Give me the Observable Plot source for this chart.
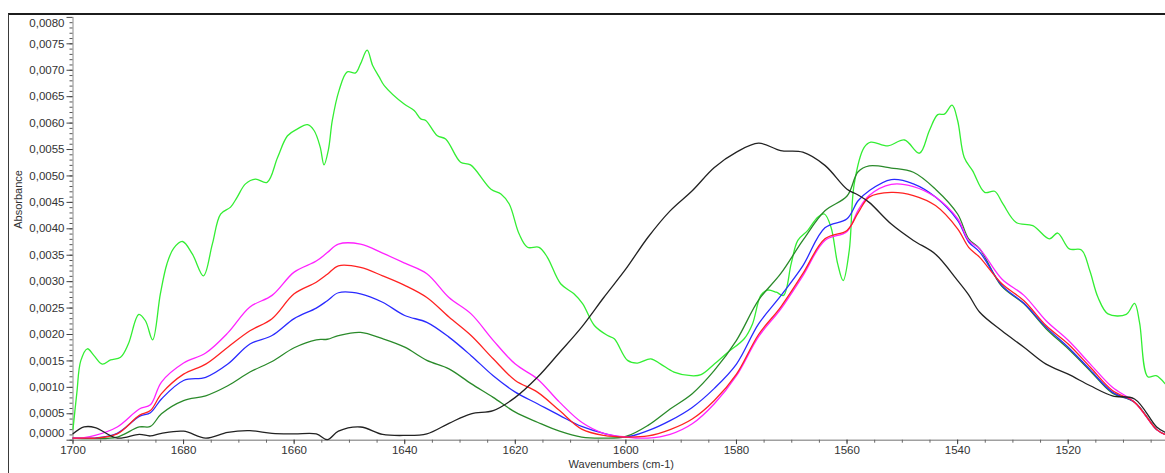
<!DOCTYPE html>
<html><head><meta charset="utf-8">
<script src="https://cdn.jsdelivr.net/npm/d3@7"></script>
<script src="https://cdn.jsdelivr.net/npm/@observablehq/plot@0.6"></script>
<style>
html,body{margin:0;padding:0;background:#fff;}
#wrap{position:relative;width:1165px;height:473px;overflow:hidden;font-family:"Liberation Sans",Arial,sans-serif;}
#wrap svg{position:absolute;left:0;top:0;}
#frame{position:absolute;left:8px;top:13px;right:0;bottom:0;border-top:2px solid #1c1c1c;border-left:1.5px solid #3a3a3a;pointer-events:none;}
</style></head><body><div id="wrap"><div id="frame"></div></div>
<script>
// Shared wavenumber grid (cm-1) for the smooth spectra
const wavenumbers = [1700,1698,1696,1692,1688,1686,1684,1680,1676,1672,1668,1664,1660,1656,1654,1652,1648,1644,1640,1636,1632,1628,1624,1620,1616,1612,1608,1604,1600,1596,1592,1588,1584,1580,1576,1572,1568,1564,1560,1558,1556,1552,1548,1544,1540,1538,1536,1532,1528,1524,1520,1516,1512,1508,1504,1502.5];

const magentaAbs = [0.00004,0.00005,0.00009,0.00025,0.00059,0.00067,0.00110,0.00146,0.00165,0.00203,0.00252,0.00274,0.00318,0.00339,0.00355,0.00371,0.00371,0.00354,0.00335,0.00315,0.00270,0.00239,0.00189,0.00144,0.00116,0.00072,0.00034,0.00013,0.00006,0.00004,0.00011,0.00031,0.00069,0.00122,0.00196,0.00248,0.00311,0.00378,0.00395,0.00435,0.00463,0.00484,0.00480,0.00460,0.00419,0.00378,0.00362,0.00305,0.00274,0.00226,0.00189,0.00144,0.00100,0.00072,0.00020,0.00011];

const redAbs = [0.00004,0.00004,0.00004,0.00012,0.00047,0.00056,0.00088,0.00125,0.00144,0.00176,0.00207,0.00230,0.00277,0.00299,0.00314,0.00330,0.00327,0.00311,0.00293,0.00270,0.00233,0.00198,0.00154,0.00113,0.00091,0.00056,0.00021,0.00009,0.00006,0.00008,0.00020,0.00040,0.00075,0.00125,0.00200,0.00252,0.00315,0.00381,0.00397,0.00430,0.00460,0.00469,0.00463,0.00444,0.00400,0.00365,0.00346,0.00296,0.00264,0.00217,0.00182,0.00138,0.00094,0.00072,0.00020,0.00011];

const blueAbs = [0.00004,0.00004,0.00004,0.00013,0.00045,0.00052,0.00078,0.00113,0.00119,0.00144,0.00182,0.00198,0.00230,0.00250,0.00264,0.00279,0.00277,0.00261,0.00236,0.00223,0.00195,0.00160,0.00122,0.00091,0.00069,0.00047,0.00026,0.00013,0.00006,0.00018,0.00037,0.00062,0.00098,0.00144,0.00220,0.00273,0.00330,0.00402,0.00419,0.00453,0.00472,0.00493,0.00485,0.00460,0.00416,0.00375,0.00356,0.00293,0.00259,0.00214,0.00176,0.00133,0.00091,0.00072,0.00020,0.00011];

const darkGreenAbs = [0.00004,0.00003,0.00003,0.00006,0.00025,0.00026,0.00050,0.00075,0.00084,0.00103,0.00129,0.00149,0.00175,0.00190,0.00191,0.00198,0.00204,0.00192,0.00176,0.00151,0.00135,0.00107,0.00081,0.00053,0.00034,0.00017,0.00006,0.00004,0.00007,0.00028,0.00059,0.00088,0.00132,0.00189,0.00265,0.00315,0.00378,0.00434,0.00462,0.00508,0.00519,0.00515,0.00507,0.00475,0.00428,0.00381,0.00362,0.00291,0.00258,0.00211,0.00173,0.00131,0.00089,0.00072,0.00020,0.00011];

const blackAbs = [0.00012,0.00025,0.00024,0.00004,0.00011,0.00008,0.00013,0.00017,0.00004,0.00015,0.00018,0.00013,0.00012,0.00012,0.00001,0.00017,0.00025,0.00011,0.00009,0.00012,0.00032,0.00050,0.00056,0.00081,0.00119,0.00166,0.00214,0.00270,0.00324,0.00384,0.00434,0.00472,0.00516,0.00545,0.00562,0.00548,0.00545,0.00520,0.00475,0.00464,0.00450,0.00409,0.00378,0.00352,0.00302,0.00275,0.00242,0.00207,0.00176,0.00144,0.00125,0.00103,0.00084,0.00078,0.00025,0.00015];

// Light green spectrum has finer structure: its own wavenumber list
const lightGreenWavenumbers = [1700.0,1699.3,1698.6,1697.4,1696.2,1694.7,1693.2,1691.4,1690.0,1688.1,1686.9,1685.6,1684.2,1683.0,1681.8,1680.2,1678.4,1676.4,1674.8,1673.3,1671.5,1670.3,1668.8,1667.0,1664.9,1663.0,1661.2,1659.4,1657.6,1656.4,1655.3,1654.6,1653.8,1653.1,1651.9,1650.4,1648.9,1648.0,1646.8,1645.8,1644.6,1643.7,1640.1,1638.3,1637.1,1636.2,1634.1,1632.6,1629.9,1628.1,1624.4,1622.6,1621.1,1619.3,1617.8,1615.7,1614.2,1611.8,1609.4,1607.8,1605.7,1603.3,1602.1,1599.7,1597.9,1595.5,1593.7,1591.3,1588.2,1586.4,1584.0,1581.6,1578.6,1577.1,1575.6,1574.4,1572.8,1571.5,1570.1,1568.9,1567.1,1565.3,1564.1,1562.9,1561.7,1560.7,1559.6,1558.7,1556.9,1555.7,1552.6,1549.6,1546.9,1545.1,1543.6,1542.4,1541.0,1540.0,1538.8,1537.3,1535.1,1533.3,1531.8,1529.4,1526.4,1523.4,1521.9,1519.8,1517.6,1516.1,1514.6,1512.8,1509.5,1508.0,1507.1,1505.6,1504.1,1502.5];

const lightGreenAbs = [0.00021,0.00090,0.00150,0.00173,0.00160,0.00144,0.00152,0.00157,0.00182,0.00238,0.00226,0.00190,0.00277,0.00334,0.00363,0.00376,0.00352,0.00311,0.00371,0.00428,0.00441,0.00460,0.00485,0.00494,0.00488,0.00535,0.00576,0.00589,0.00597,0.00586,0.00555,0.00521,0.00550,0.00605,0.00661,0.00697,0.00695,0.00712,0.00738,0.00709,0.00687,0.00671,0.00636,0.00624,0.00608,0.00605,0.00576,0.00570,0.00526,0.00521,0.00475,0.00466,0.00447,0.00390,0.00365,0.00365,0.00346,0.00296,0.00277,0.00258,0.00217,0.00198,0.00192,0.00151,0.00146,0.00154,0.00144,0.00129,0.00122,0.00124,0.00144,0.00166,0.00192,0.00220,0.00274,0.00284,0.00280,0.00274,0.00334,0.00378,0.00397,0.00422,0.00428,0.00403,0.00334,0.00302,0.00359,0.00485,0.00554,0.00564,0.00557,0.00568,0.00543,0.00586,0.00616,0.00617,0.00634,0.00605,0.00535,0.00510,0.00469,0.00471,0.00447,0.00412,0.00406,0.00381,0.00392,0.00362,0.00360,0.00321,0.00270,0.00239,0.00238,0.00259,0.00223,0.00120,0.00122,0.00107];

const xMajorTicks = [1700,1680,1660,1640,1620,1600,1580,1560,1540,1520];
const yMajorTicks = [0,0.0005,0.0010,0.0015,0.0020,0.0025,0.0030,0.0035,0.0040,0.0045,0.0050,0.0055,0.0060,0.0065,0.0070,0.0075,0.0080];
const xMinorTicks = d3.range(1700, 1502, -5);
const yMinorTicks = d3.range(0, 80).map(i => i / 10000);

const series = [
  {name: "light green", color: "#33ee33", wn: lightGreenWavenumbers, abs: lightGreenAbs},
  {name: "dark green", color: "#2a8a2a", wn: wavenumbers, abs: darkGreenAbs},
  {name: "blue", color: "#2a2aff", wn: wavenumbers, abs: blueAbs},
  {name: "magenta", color: "#ff22ff", wn: wavenumbers, abs: magentaAbs},
  {name: "red", color: "#ff2222", wn: wavenumbers, abs: redAbs},
  {name: "black", color: "#222222", wn: wavenumbers, abs: blackAbs}
];

const fmtY = v => d3.format(".4f")(v).replace(".", ",");
const axisText = {fill: "#333", fontSize: 11.5, label: null};

const chart = Plot.plot({
  width: 1165, height: 473,
  marginLeft: 72.5, marginRight: 0, marginTop: 16.9, marginBottom: 33.3,
  x: {domain: [1700, 1502.4]},
  y: {domain: [0, 0.008]},
  style: {fontFamily: "'Liberation Sans', Arial, sans-serif", fontSize: "11.5px", color: "#333", background: "transparent"},
  marks: [
    Plot.ruleX([1700], {stroke: "#8c8c8c"}),
    Plot.ruleY([0], {stroke: "#a0a0a0", strokeWidth: 1.6}),
    Plot.axisY(yMinorTicks, {tickSize: 3, tickFormat: () => "", stroke: "#555", label: null}),
    Plot.axisY(yMajorTicks, {tickSize: 6, tickFormat: () => "", stroke: "#444", label: null}),
    Plot.axisY(yMajorTicks.filter(v => v > 0 && v < 0.008), {tickSize: 0, tickPadding: 8.5, tickFormat: fmtY, ...axisText}),
    Plot.axisY([0.008], {tickSize: 0, tickPadding: 8.5, tickFormat: fmtY, dy: 5.5, ...axisText}),
    Plot.axisY([0], {tickSize: 0, tickPadding: 8.5, tickFormat: fmtY, dy: -7, ...axisText}),
    Plot.axisX(xMinorTicks, {tickSize: 3, tickFormat: () => "", stroke: "#666", label: null}),
    Plot.axisX(xMajorTicks, {tickSize: 4.5, tickFormat: () => "", stroke: "#444", label: null}),
    Plot.axisX(xMajorTicks, {tickSize: 0, tickPadding: 5.5, tickFormat: d => String(d), ...axisText}),
    ...series.map(s => Plot.line(s.wn.map((w, i) => ({wn: w, a: s.abs[i]})), {
      x: "wn", y: "a", stroke: s.color, strokeWidth: 1.3, curve: "catmull-rom"
    })),
    Plot.text(["Absorbance"], {frameAnchor: "left", dx: -54.5, rotate: -90, fill: "#333", fontSize: 11}),
    Plot.text(["Wavenumbers (cm-1)"], {frameAnchor: "bottom", dy: 27.5, dx: 2, fill: "#333", fontSize: 11})
  ]
});
document.getElementById("wrap").prepend(chart);
</script>
</body></html>
